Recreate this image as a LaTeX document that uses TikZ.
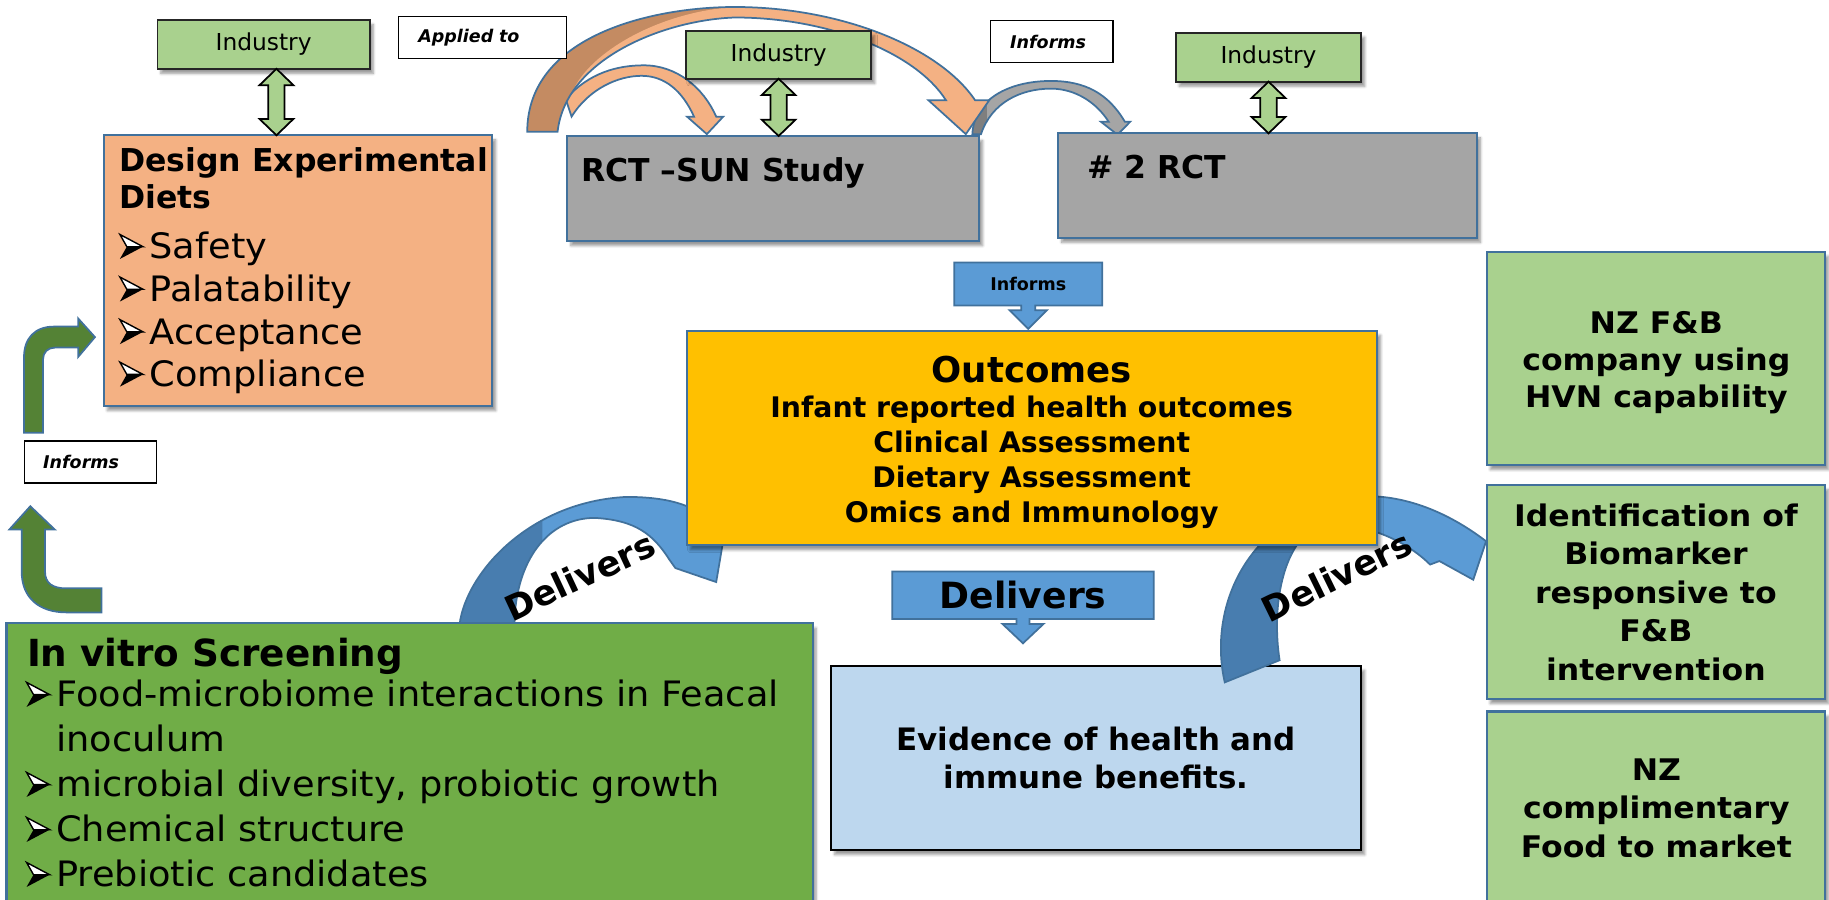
\documentclass[tikz,border=0pt]{standalone}
\usepackage{fontspec}
\setmainfont{DejaVu Sans}[ItalicFont={DejaVu Sans Oblique},BoldItalicFont={DejaVu Sans Bold Oblique}]
\newfontfamily\listfont{DejaVu Sans}[FakeStretch=1.05]
\newfontfamily\sidefont{DejaVu Sans}[FakeStretch=1.06]
\usetikzlibrary{positioning,calc,shadows.blur}

\definecolor{industrygreen}{HTML}{A9D18E}
\definecolor{dietorange}{HTML}{F4B183}
\definecolor{dietdark}{HTML}{C48B62}
\definecolor{rctgrey}{HTML}{A5A5A5}
\definecolor{rctdark}{HTML}{7F7F7F}
\definecolor{outcomegold}{HTML}{FFC000}
\definecolor{evidenceblue}{HTML}{BDD7EE}
\definecolor{vitrogreen}{HTML}{70AD47}
\definecolor{arrowgreen}{HTML}{548235}
\definecolor{deliverblue}{HTML}{5B9BD5}
\definecolor{deliverdark}{HTML}{487DAF}
\definecolor{edgeblue}{HTML}{41719C}

\newcommand{\setfs}[2]{\fontsize{#1}{#2}\selectfont}

% 3d arrowhead bullet
\newcommand{\arrowbullet}{\tikz[baseline=0pt, x=0.66em, y=0.7em, line width=0.04em]{%
  \fill[black] (0,0) -- (1,0.5) -- (0.3,0.5) -- cycle;
  \filldraw[fill=white, draw=black] (0,1) -- (1,0.5) -- (0.3,0.5) -- cycle;}\hspace{0.17em}}

% up/down block arrow, drawn at the x of #1 down to #2
\newcommand{\twoway}[2]{%
  \filldraw[twowayarrow] let \p1=(#1), \p2=(#2) in
    (\x1,\y1) -- (\x1+14.5pt,\y1-14pt) -- (\x1+7pt,\y1-14pt) -- (\x1+7pt,\y2+14pt)
    -- (\x1+14.5pt,\y2+14pt) -- (\x1,\y2) -- (\x1-14.5pt,\y2+14pt) -- (\x1-7pt,\y2+14pt)
    -- (\x1-7pt,\y1-14pt) -- (\x1-14.5pt,\y1-14pt) -- cycle;}

\tikzset{
  box/.style={rectangle, draw=edgeblue, line width=1.8pt, inner sep=0pt, outer sep=0pt, anchor=north west,
    blur shadow={shadow xshift=3pt, shadow yshift=-4pt, shadow blur steps=6}},
  industrybox/.style={box, draw=black!85, line width=1.5pt, fill=industrygreen, font=\setfs{20}{24}},
  tagbox/.style={rectangle, draw=black, line width=1.3pt, fill=white, anchor=north west, inner ysep=0pt,
    outer sep=0pt, minimum height=36pt, align=left, font=\setfs{15}{18}\bfseries\itshape},
  callout/.style={inner sep=0pt, outer sep=0pt, font=\bfseries},
  calloutshape/.style={fill=deliverblue, draw=edgeblue, line width=1.5pt},
  twowayarrow/.style={fill=industrygreen, draw=black, line width=1.5pt},
  greenarrow/.style={fill=arrowgreen, draw=edgeblue, line width=1.5pt},
  bandedge/.style={draw=edgeblue, line width=1.5pt},
  headtext/.style={anchor=north west, inner sep=0pt, align=left},
  sidetext/.style={anchor=north, inner sep=0pt, align=center, font=\sidefont\setfs{25.5}{32}\bfseries}
}

\begin{document}
\begin{tikzpicture}[x=1pt, y=-1pt]
\useasboundingbox (0,0) rectangle (1568,771);
\clip (0,0) rectangle (1568,771);

% arcs over the trials
\def\smallarc{(485,85) .. controls (505,62) and (530,56) .. (552,56) .. controls (580,56) and (603,75) .. (614,100)
  -- (620,100) -- (606,115) -- (589,100) -- (595,100) .. controls (585,78) and (570,65) .. (550,65)
  .. controls (530,65) and (505,76) .. (490,100) -- cycle}
\def\greyarc{(833.6,115) .. controls (835,85) and (865,69.4) .. (901,69.4) .. controls (930,69.4) and (950,80) .. (964.3,104.3)
  -- (969,104.3) -- (958,115.5) -- (943.7,104.3) -- (950.4,104.3) .. controls (940,88) and (922,76) .. (901,76)
  .. controls (875,76) and (850,88) .. (841,115) -- cycle}
\def\bigarc{(452,113) .. controls (452,30) and (560,6) .. (630,6) .. controls (720,6) and (805,40) .. (836,86)
  -- (848,86) -- (828,115) -- (796,86) -- (811,86) .. controls (785,45) and (710,15) .. (630,15)
  .. controls (570,17) and (485,50) .. (478,113) -- cycle}
\def\bigface{(490.7,78.8) .. controls (505,45) and (565,10) .. (630,6) .. controls (720,6) and (805,40) .. (836,86)
  -- (848,86) -- (828,115) -- (796,86) -- (811,86) .. controls (785,45) and (710,15) .. (630,15)
  .. controls (582,16.6) and (518,38) .. (490.7,78.8) -- cycle}

\filldraw[fill=dietorange, bandedge] \smallarc;
\fill[rctgrey] \greyarc;
\begin{scope}
  \clip (820,60) rectangle (846,120);
  \fill[rctdark] \greyarc;
\end{scope}
\draw[bandedge] \greyarc;
\fill[dietdark] \bigarc;
\fill[dietorange] \bigface;
\draw[bandedge] \bigarc;

% industry partners
\node[industrybox, minimum width=182pt, minimum height=42pt] (ind1) at (135,17) {Industry};
\node[industrybox, minimum width=159pt, minimum height=41pt] (ind2) at (588,26.5) {Industry};
\node[industrybox, minimum width=159pt, minimum height=42pt] (ind3) at (1008,28) {Industry};

\node[tagbox, text width=110pt, inner xsep=17pt] (applied) at (341.6,14.3) {Applied to};
\node[tagbox, text width=71pt, inner xsep=17pt] (inftop) at (849,17.7) {Informs};

% diet design and the two trials
\node[box, fill=dietorange, minimum width=333pt, minimum height=232pt] (design) at (89,116) {};
\node[headtext, font=\setfs{27}{32.4}\bfseries] (designtitle) at (102,126) {Design Experimental\\Diets};
\node[headtext, font=\listfont\setfs{30}{36.5}] (designlist) at (102,199)
  {\arrowbullet Safety\\\arrowbullet Palatability\\\arrowbullet Acceptance\\\arrowbullet Compliance};

\node[box, fill=rctgrey, minimum width=353pt, minimum height=90pt] (rct) at (486.4,116.6) {};
\node[headtext, font=\setfs{27}{31}\bfseries] (rcttext) at (498,134.5) {RCT –SUN Study};
\node[box, fill=rctgrey, minimum width=359pt, minimum height=89.5pt] (rct2) at (907.2,114.3) {};
\node[headtext, font=\setfs{27}{31}\bfseries] (rct2text) at (932,133) {\# 2 RCT};

\twoway{[xshift=11pt]ind1.south}{design.north}
\twoway{ind2.south}{rct.north}
\twoway{ind3.south}{rct2.north}

% screening feeds the diet design
\node[tagbox, text width=81pt, inner xsep=16pt] (infleft) at (21,378) {Informs};
\filldraw[greenarrow] (20.6,371) -- (20.6,306) .. controls (20.6,290) and (30,280) .. (46,280) -- (67,280) -- (67,273)
  -- (81.4,289) -- (67,306) -- (67,298) -- (47,298) .. controls (41,298) and (36.9,302) .. (36.9,308) -- (36.9,371) -- cycle;
\filldraw[greenarrow] (18.6,454) -- (8,454) -- (26,434) -- (47,454) -- (38.6,454) -- (38.6,490)
  .. controls (38.6,500) and (45,504.4) .. (57,504.4) -- (87,504.4) -- (87,525) -- (57,525)
  .. controls (33,525) and (18.6,512) .. (18.6,490) -- cycle;

% delivers arcs
\def\leftband{(394,535) .. controls (400,490) and (455,430) .. (537,426) .. controls (570,426) and (595,432) .. (610,448)
  -- (624,440) -- (614,499) -- (579,487) -- (574,480) .. controls (560,458) and (545,446) .. (510,444)
  .. controls (470,444) and (442,480) .. (441,535) -- cycle}
\def\rightband{(1050,585) .. controls (1035,520) and (1070,440) .. (1160,426) .. controls (1200,422) and (1240,438) .. (1274,464)
  -- (1263,497) -- (1234,481) -- (1226,484) .. controls (1200,458) and (1150,440) .. (1120,458)
  .. controls (1100,475) and (1090,520) .. (1097,566) -- cycle}

\fill[deliverblue] \leftband;
\begin{scope}
  \clip (380,400) rectangle (465,540);
  \fill[deliverdark] \leftband;
\end{scope}
\draw[bandedge] \leftband;

\node[box, fill=vitrogreen, minimum width=691pt, minimum height=270pt] (vitro) at (5.6,534.4) {};
\node[headtext, font=\setfs{32}{37}\bfseries] (vitrotitle) at (23,546.5) {In vitro Screening};
\node[headtext, font=\listfont\setfs{30}{38.6}] (vitrolist) at (22,583) {\arrowbullet Food-microbiome interactions in Feacal\\
  \hphantom{\arrowbullet}inoculum\\\arrowbullet microbial diversity, probiotic growth\\\arrowbullet Chemical structure\\\arrowbullet Prebiotic candidates};

\node[box, draw=black, fill=evidenceblue, minimum width=454.5pt, minimum height=158pt, align=center,
  font=\setfs{26.5}{33}\bfseries] (evidence) at (712.5,570.7) {Evidence of health and\\immune benefits.};

\fill[deliverblue] \rightband;
\begin{scope}
  \clip (1000,400) rectangle (1170,600);
  \fill[deliverdark] \rightband;
\end{scope}
\draw[bandedge] \rightband;

\node[box, fill=outcomegold, minimum width=592pt, minimum height=184pt] (outcomes) at (588.7,283.5) {};
\node[anchor=north, inner sep=0pt, align=center, font=\setfs{24.3}{30}\bfseries] (outcometext) at (884.5,305)
  {{\setfs{30.5}{36}Outcomes}\\Infant reported health outcomes\\Clinical Assessment\\Dietary Assessment\\Omics and Immunology};

\node[rotate=25, font=\setfs{30}{36}\bfseries] (deliverleft) at (497,494) {Delivers};
\node[rotate=26, font=\setfs{30}{36}\bfseries] (deliverright) at (1146,494) {Delivers};

% down callouts
\coordinate (infcorner) at (818,225);
\filldraw[calloutshape] (infcorner) -- ++(127,0) -- ++(0,37) -- ++(-57.5,0) -- ++(0,4) -- ++(10,0) -- ++(-16,16)
  -- ++(-16,-16) -- ++(10,0) -- ++(0,-4) -- ++(-57.5,0) -- cycle;
\node[callout, font=\setfs{15}{18}\bfseries] (infcall) at ($(infcorner)+(63.5,18.5)$) {Informs};
\coordinate (delcorner) at (765,490);
\filldraw[calloutshape] (delcorner) -- ++(224,0) -- ++(0,40.6) -- ++(-106.5,0) -- ++(0,4.4) -- ++(12,0) -- ++(-17.5,16.5)
  -- ++(-17.5,-16.5) -- ++(12,0) -- ++(0,-4.4) -- ++(-106.5,0) -- cycle;
\node[callout, font=\setfs{31}{37}\bfseries] (delcall) at ($(delcorner)+(112,20.3)$) {Delivers};

% what it leads to
\node[box, fill=industrygreen, minimum width=290pt, minimum height=183pt] (nzfb) at (1274.6,215.7) {};
\node[sidetext] (nzfbtext) at (1420,266.5) {NZ F\&B\\company using\\HVN capability};
\node[box, fill=industrygreen, minimum width=290pt, minimum height=183.4pt, align=center,
  font=\sidefont\setfs{25.5}{33}\bfseries] (biomarker) at (1274.6,415.8) {Identification of\\Biomarker\\responsive to\\F\&B\\intervention};
\node[box, fill=industrygreen, minimum width=290pt, minimum height=200pt] (nzfood) at (1274.6,610) {};
\node[sidetext, font=\sidefont\setfs{25.5}{33}\bfseries] (nzfoodtext) at (1420,650) {NZ\\complimentary\\Food to market};
\end{tikzpicture}
\end{document}
